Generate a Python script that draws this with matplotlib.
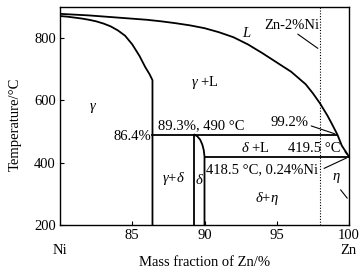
import numpy as np
import matplotlib
matplotlib.use("Agg")
import matplotlib.pyplot as plt

plt.rcParams['font.family'] = ['Liberation Serif', 'DejaVu Serif']
plt.rcParams['mathtext.fontset'] = 'custom'
plt.rcParams['mathtext.rm'] = 'Liberation Serif'
plt.rcParams['mathtext.it'] = 'Liberation Serif:italic'

# --- Data ---
liq_x = [80, 82, 84, 86, 87, 88, 89, 90, 91, 92, 93, 94, 95, 96, 97, 97.5,
         98, 98.5, 98.8, 99.2, 99.5, 100]
liq_t = [878, 873, 866, 859, 854, 848, 841, 832, 819, 803, 780, 752, 722, 692,
         652, 623, 590, 552, 526, 490, 455, 419.5]

sol_x = [80, 80.5, 81, 81.5, 82, 82.5, 83, 83.5, 84, 84.5, 85, 85.5, 85.9,
         86.2, 86.4, 86.4]
sol_t = [871, 869, 866, 863, 859, 854, 847, 838, 825, 808, 780, 743, 707,
         684, 665, 200]

delta_left_x = [89.3, 89.3]
delta_left_t = [490, 200]
delta_right_x = [89.3, 89.5, 89.7, 89.85, 89.95, 90.0, 90.0]
delta_right_t = [490, 485, 474, 458, 440, 420, 200]

peritectic_x = [86.4, 99.2]
peritectic_t = [490, 490]
eutectic_x = [90.0, 100]
eutectic_t = [418.5, 418.5]

alloy_x = 98  # Zn-2%Ni

fig = plt.figure(figsize=(3.62, 2.72), dpi=100)
ax = fig.add_axes([60 / 362, 1 - 225 / 272, 289 / 362, 218 / 272])

lw = 1.3
ax.plot(liq_x, liq_t, color='black', lw=lw)
ax.plot(sol_x, sol_t, color='black', lw=lw)
ax.plot(delta_left_x, delta_left_t, color='black', lw=lw)
ax.plot(delta_right_x, delta_right_t, color='black', lw=lw)
ax.plot(peritectic_x, peritectic_t, color='black', lw=lw)
ax.plot(eutectic_x, eutectic_t, color='black', lw=lw)
ax.plot([alloy_x, alloy_x], [200, 900], color='black', lw=0.8, ls=(0, (1, 1.5)))

fs = 10.5
# region labels
ax.text(92.9, 816, '$L$', fontsize=fs, ha='center', va='center')
ax.text(90.0, 659, r'$\gamma$ +L', fontsize=fs, ha='center', va='center')
ax.text(82.3, 575, r'$\gamma$', fontsize=fs, ha='center', va='center')
ax.text(87.85, 350, r'$\gamma$+$\delta$', fontsize=fs, ha='center', va='center')
ax.text(89.62, 344, r'$\delta$', fontsize=fs, ha='center', va='center')
ax.text(93.5, 447, r'$\delta$ +L', fontsize=fs, ha='center', va='center')
ax.text(94.3, 286, r'$\delta$+$\eta$', fontsize=fs, ha='center', va='center')

# compositions / temperatures
ax.text(86.3, 484, '86.4%', fontsize=fs, ha='right', va='center')
ax.text(86.8, 497, '89.3%, 490 °C', fontsize=fs, ha='left', va='bottom')
ax.text(90.1, 379, '418.5 °C, 0.24%Ni', fontsize=fs, ha='left', va='center')
ax.annotate('', xy=(100, 419), xytext=(98.1, 378),
            arrowprops=dict(arrowstyle='-', color='black', lw=0.8))
ax.text(97.6, 447, '419.5 °C', fontsize=fs, ha='center', va='center')
ax.annotate('', xy=(100, 419.5), xytext=(99.6, 442),
            arrowprops=dict(arrowstyle='-', color='black', lw=0.8))
ax.text(95.9, 530, '99.2%', fontsize=fs, ha='center', va='center')
ax.annotate('', xy=(99.2, 490), xytext=(97.2, 521),
            arrowprops=dict(arrowstyle='-', color='black', lw=0.8))
ax.text(96.05, 842, 'Zn-2%Ni', fontsize=fs, ha='center', va='center')
ax.annotate('', xy=(98, 762), xytext=(96.3, 818),
            arrowprops=dict(arrowstyle='-', color='black', lw=0.8))
ax.text(99.1, 350, r'$\eta$', fontsize=fs, ha='center', va='center')
ax.annotate('', xy=(100, 279), xytext=(99.3, 320),
            arrowprops=dict(arrowstyle='-', color='black', lw=0.8))

ax.set_xlim(80, 100)
ax.set_ylim(200, 900)
ax.set_xticks([85, 90, 95, 100])
ax.set_yticks([200, 400, 600, 800])
ax.tick_params(direction='in', length=3, width=0.8, labelsize=fs, pad=3)
for s in ax.spines.values():
    s.set_linewidth(1.0)

ax.set_ylabel('Temperature/°C', fontsize=fs)
ax.yaxis.set_label_coords(-38 / 289, 0.46)
fig.text(205 / 362, 1 - 263 / 272, 'Mass fraction of Zn/%', fontsize=fs,
         ha='center', va='center')
fig.text(60 / 362, 1 - 251 / 272, 'Ni', fontsize=fs, ha='center', va='center')
fig.text(348 / 362, 1 - 251 / 272, 'Zn', fontsize=fs, ha='center', va='center')

fig.savefig('out.png', dpi=100)
